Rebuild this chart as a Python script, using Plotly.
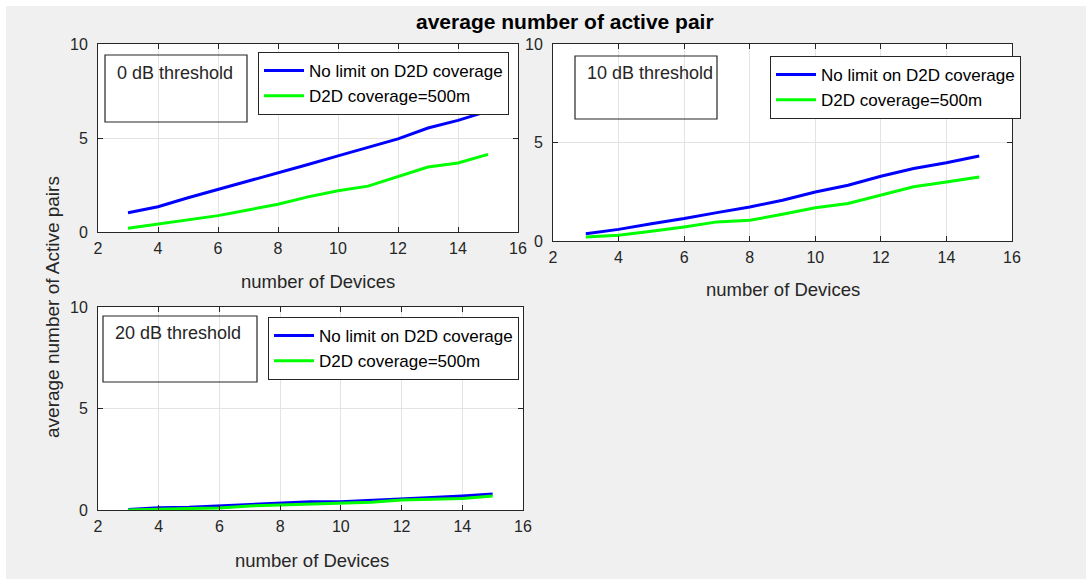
import plotly.graph_objects as go

PAGE_W, PAGE_H = 1086, 579
OFF = 6  # white page border around the grey figure
W, H = PAGE_W - OFF + 4, PAGE_H - OFF + 4  # slightly oversized; overflow is clipped

devices = [3, 4, 5, 6, 7, 8, 9, 10, 11, 12, 13, 14, 15]

nolimit_0db = [1.02, 1.34, 1.82, 2.26, 2.67, 3.11, 3.59, 4.05, 4.52, 4.95, 5.53, 5.94, 6.43]
cov500_0db = [0.20, 0.41, 0.64, 0.87, 1.17, 1.48, 1.87, 2.19, 2.44, 2.93, 3.46, 3.67, 4.13]

nolimit_10db = [0.37, 0.59, 0.88, 1.14, 1.44, 1.73, 2.07, 2.49, 2.83, 3.29, 3.68, 3.97, 4.31]
cov500_10db = [0.20, 0.29, 0.49, 0.71, 0.97, 1.05, 1.36, 1.69, 1.90, 2.32, 2.75, 3.00, 3.25]

nolimit_20db = [0.03, 0.11, 0.13, 0.20, 0.28, 0.33, 0.41, 0.41, 0.49, 0.57, 0.62, 0.69, 0.79]
cov500_20db = [0.00, 0.05, 0.07, 0.10, 0.20, 0.25, 0.30, 0.36, 0.38, 0.49, 0.52, 0.57, 0.69]

series_names = ["No limit on D2D coverage", "D2D coverage=500m"]
panel_labels = ["0 dB threshold", "10 dB threshold", "20 dB threshold"]
x_ticks = [2, 4, 6, 8, 10, 12, 14, 16]
y_ticks = [0, 5, 10]

FONT = "Liberation Sans, Arial, Helvetica, sans-serif"
TXT = "#262626"
BLUE = "#0000ff"
GREEN = "#00ff00"


def px(x):
    return (x - OFF) / W


def py(y):
    return 1 - (y - OFF) / H


fig = go.Figure()

panels = [
    ("", nolimit_0db, cov500_0db, "legend", (98, 518), (44, 232)),
    ("2", nolimit_10db, cov500_10db, "legend2", (553, 1012), (44, 241)),
    ("3", nolimit_20db, cov500_20db, "legend3", (98, 523), (307, 510)),
]

for suf, blue, green, leg, (xl, xr), (yt, yb) in panels:
    for name, vals, col in ((series_names[0], blue, BLUE), (series_names[1], green, GREEN)):
        fig.add_trace(go.Scatter(
            x=devices, y=vals, mode="lines", name=name,
            line=dict(color=col, width=3),
            xaxis="x" + suf, yaxis="y" + suf, legend=leg,
        ))
    axcommon = dict(
        showline=True, linecolor=TXT, linewidth=1, mirror="ticks",
        ticks="inside", ticklen=5, tickcolor=TXT,
        showgrid=True, gridcolor="#e3e3e3", gridwidth=1,
        zeroline=False, automargin=False,
        tickfont=dict(family=FONT, size=16, color=TXT),
    )
    fig.update_layout(**{
        "xaxis" + suf: dict(axcommon, domain=[px(xl), px(xr)], range=[2, 16],
                            tickvals=x_ticks, anchor="y" + suf, ticklabelstandoff=2),
        "yaxis" + suf: dict(axcommon, domain=[py(yb), py(yt)], range=[0, 10],
                            tickvals=y_ticks, anchor="x" + suf, ticklabelstandoff=6),
    })

legend_style = dict(
    bgcolor="white", bordercolor=TXT, borderwidth=1,
    font=dict(family=FONT, size=17, color="#000000"),
    xanchor="left", yanchor="top", xref="paper", yref="paper",
    tracegroupgap=0, itemwidth=40,
)
fig.update_layout(
    legend=dict(legend_style, x=px(258), y=py(52)),
    legend2=dict(legend_style, x=px(770), y=py(56)),
    legend3=dict(legend_style, x=px(268), y=py(317)),
)

shapes = []
annotations = []
boxes = [((105, 55, 247, 122), (115, 73)), ((575, 56, 717, 119), (585, 73)),
         ((103, 316, 257, 382), (113, 333))]
for label, ((x0, y0, x1, y1), (tx, ty)) in zip(panel_labels, boxes):
    shapes.append(dict(type="rect", xref="paper", yref="paper",
                       x0=px(x0), x1=px(x1), y0=py(y1), y1=py(y0),
                       line=dict(color=TXT, width=1.2), layer="above"))
    annotations.append(dict(text=label, xref="paper", yref="paper", x=px(tx), y=py(ty),
                            xanchor="left", yanchor="middle", showarrow=False,
                            font=dict(family=FONT, size=18, color=TXT)))

for (cx, cy) in ((318, 281), (783, 289), (312, 560)):
    annotations.append(dict(text="number of Devices", xref="paper", yref="paper",
                            x=px(cx), y=py(cy), xanchor="center", yanchor="middle",
                            showarrow=False, font=dict(family=FONT, size=18.5, color=TXT)))

annotations.append(dict(text="average number of Active pairs", xref="paper", yref="paper",
                        x=px(52), y=py(307), xanchor="center", yanchor="middle",
                        textangle=-90, showarrow=False,
                        font=dict(family=FONT, size=19, color=TXT)))

annotations.append(dict(text="<b>average number of active pair</b>", xref="paper", yref="paper",
                        x=px(565), y=py(21), xanchor="center", yanchor="middle",
                        showarrow=False, font=dict(family=FONT, size=21, color="#000000")))

fig.update_layout(
    width=W, height=H,
    margin=dict(l=0, r=0, t=0, b=0),
    paper_bgcolor="#f0f0f0", plot_bgcolor="white",
    template="none",
    showlegend=True,
    shapes=shapes, annotations=annotations,
    font=dict(family=FONT, color=TXT),
)

fig.write_html(
    "out.html",
    post_script="document.body.style.margin='%dpx 0 0 %dpx';"
                "document.body.style.overflow='hidden';"
                "document.documentElement.style.overflow='hidden';" % (OFF, OFF),
)
